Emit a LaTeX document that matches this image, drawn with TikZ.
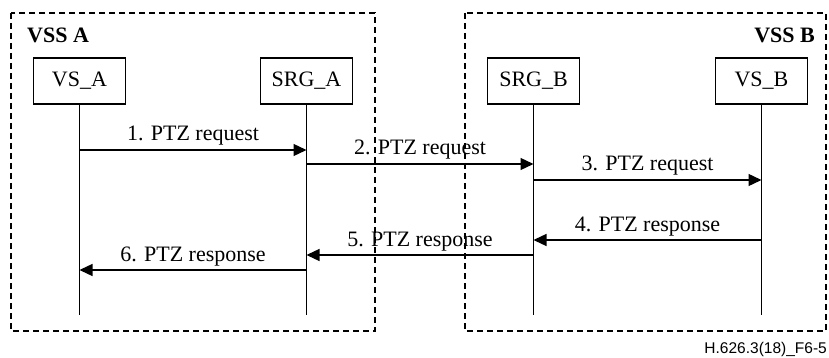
\documentclass[tikz,border=0pt]{standalone}
\usepackage{fontspec}
\setmainfont{Liberation Serif}
\newfontfamily\footfont{Liberation Sans}
\usetikzlibrary{arrows.meta}

\begin{document}
\begin{tikzpicture}[x=1pt,y=-1pt,
  every node/.style={font=\fontsize{22}{26}\selectfont},
  entity/.style={draw, line width=1.3pt, minimum width=92pt, minimum height=46pt, inner sep=0pt},
  sysbox/.style={draw, line width=1.2pt, dash pattern=on 6pt off 4pt},
  lifeline/.style={line width=1.3pt},
  msg/.style={line width=1.3pt, -{Triangle[length=13pt,width=12pt]}},
  msglabel/.style={anchor=base, yshift=9pt, inner sep=0pt}]
\useasboundingbox (0,0) rectangle (829,358);

% system domains
\draw[sysbox] (11,13) rectangle (375,331);
\draw[sysbox] (465,13) rectangle (826,331);
\node[anchor=base west, inner sep=0pt, font=\fontsize{22}{26}\selectfont\bfseries] (lblA) at (27,43) {VSS A};
\node[anchor=base east, inner sep=0pt, font=\fontsize{22}{26}\selectfont\bfseries] (lblB) at (815,43) {VSS B};

% entities
\node[entity] (vsa)  at (79.5,81)  {VS\_A};
\node[entity] (srga) at (306.5,81) {SRG\_A};
\node[entity] (srgb) at (533.5,81) {SRG\_B};
\node[entity] (vsb)  at (761.5,81) {VS\_B};

% lifelines
\foreach \e in {vsa,srga,srgb,vsb}{
  \coordinate (\e-end) at (\e.south |- 0,315);
  \draw[lifeline] (\e.south) -- (\e-end);
}

% messages
\draw[msg] (vsa |- 0,150) -- node[msglabel] {1. PTZ request} (srga |- 0,150);
\draw[msg] (srga |- 0,164) -- node[msglabel] {2. PTZ request} (srgb |- 0,164);
\draw[msg] (srgb |- 0,180) -- node[msglabel] {3. PTZ request} (vsb |- 0,180);
\draw[msg] (vsb |- 0,240) -- node[msglabel] {4. PTZ response} (srgb |- 0,240);
\draw[msg] (srgb |- 0,255) -- node[msglabel] {5. PTZ response} (srga |- 0,255);
\draw[msg] (srga |- 0,270) -- node[msglabel] {6. PTZ response} (vsa |- 0,270);

% figure tag
\node[anchor=base east, inner sep=0pt, font=\footfont\fontsize{15.5}{18}\selectfont] (tag) at (827,353) {H.626.3(18)\_F6-5};
\end{tikzpicture}
\end{document}
